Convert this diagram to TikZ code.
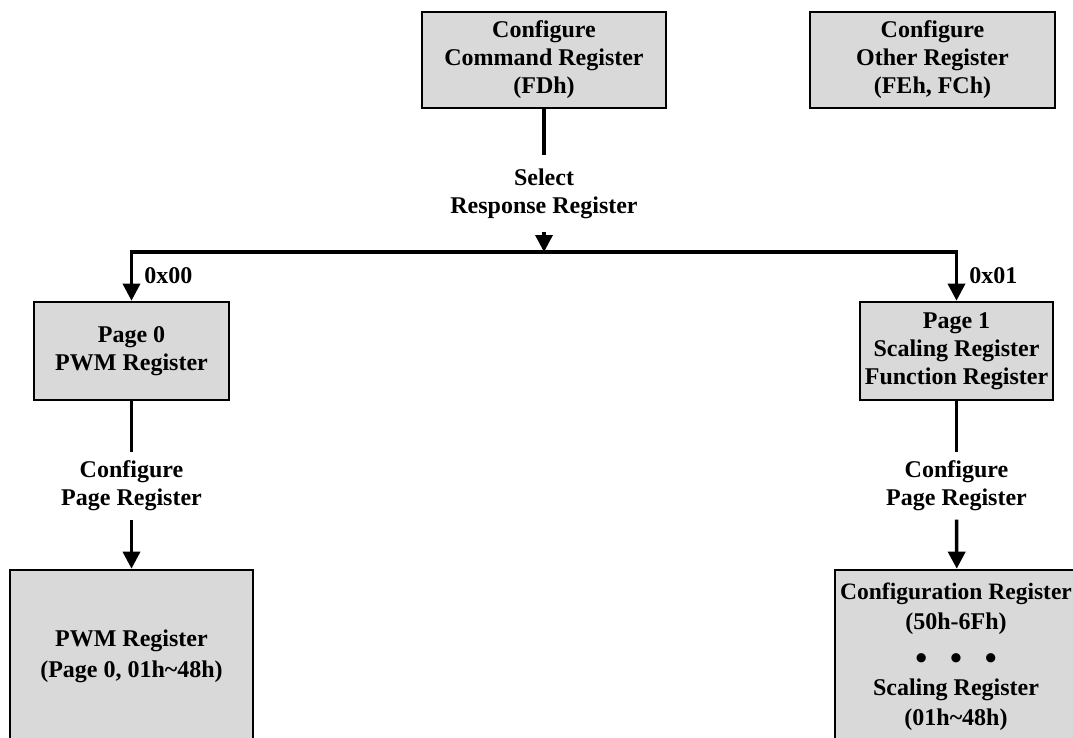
\documentclass[tikz,border=0pt]{standalone}
\usepackage{fontspec}
\setmainfont{Liberation Serif}
\usetikzlibrary{arrows.meta}
\definecolor{boxgray}{HTML}{D9D9D9}
\tikzset{
  regbox/.style={draw=black, line width=2.6pt, fill=boxgray, inner sep=0pt, align=center,
    font=\bfseries\fontsize{24}{28}\selectfont},
  lbl/.style={inner sep=0pt, align=center, font=\bfseries\fontsize{24}{28}\selectfont},
  conn/.style={line width=3.5pt, line join=miter},
  arr/.style={conn, -{Triangle[length=17pt,width=17pt]}}
}
\newcommand{\bigdot}{{\fontsize{34}{28}\selectfont\textbullet}}
\begin{document}
\begin{tikzpicture}[x=1pt,y=-1pt]
\useasboundingbox (0,0) rectangle (1073,738);
\clip (0,0) rectangle (1073,738);
\node[regbox, minimum width=244pt, minimum height=96pt] (cmd) at (544,60) {Configure\\Command Register\\(FDh)};
\node[regbox, minimum width=245pt, minimum height=96pt] (oth) at (932.5,60) {Configure\\Other Register\\(FEh, FCh)};
\node[lbl, minimum height=77pt] (sel) at (544,193.5) {Select\\Response Register};
\coordinate (bus) at (544,252);
\node[regbox, minimum width=195pt, minimum height=98pt] (p0) at (131.5,351) {Page 0\\PWM Register};
\node[regbox, minimum width=193pt, minimum height=98pt] (p1) at (956.5,351) {Page 1\\Scaling Register\\Function Register};
\node[lbl, minimum height=67pt] (cfg0) at (131.5,486) {Configure\\Page Register};
\node[lbl, minimum height=67pt] (cfg1) at (956.5,486) {Configure\\Page Register};
\node[regbox, minimum width=243pt, minimum height=172pt] (pwm) at (131.5,656) {PWM Register\\[3pt](Page 0, 01h\textasciitilde48h)};
\node[regbox, minimum width=244pt, minimum height=172pt] (conf) at (957,656) {};
\node[lbl] at (956,657) {{\fontsize{23.5}{28}\selectfont Configuration Register}\\[2pt](50h-6Fh)\\[12pt]\bigdot\hspace{0.95em}\bigdot\hspace{0.95em}\bigdot\\[-2pt]Scaling Register\\[2pt](01h\textasciitilde48h)};
\draw[conn] (cmd) -- (sel);
\draw[arr] (sel) -- (bus);
\draw[arr] (bus) -| node[lbl, pos=0.74, anchor=west, xshift=11pt] {0x00} (p0);
\draw[arr] (bus) -| node[lbl, pos=0.74, anchor=west, xshift=11pt] {0x01} (p1);
\draw[conn] (p0) -- (cfg0);
\draw[arr] (cfg0) -- (pwm);
\draw[conn] (p1) -- (cfg1);
\draw[arr] (cfg1) -- (conf);
\end{tikzpicture}
\end{document}
